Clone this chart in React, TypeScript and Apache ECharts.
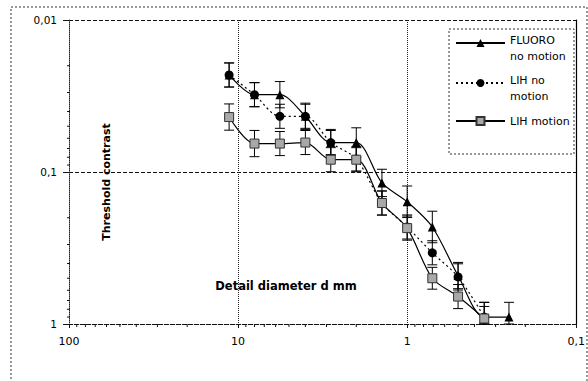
import React, { useEffect, useRef } from "react";
import * as echarts from "echarts";

// Detail diameter d (mm)
const X_VALUES = [11.3, 8, 5.66, 4, 2.83, 2, 1.41, 1, 0.71, 0.5, 0.35, 0.25];
// Threshold contrast per series
const FLUORO = [0.023, 0.031, 0.031, 0.043, 0.064, 0.064, 0.118, 0.157, 0.23, 0.48, 0.9, 0.9];
const LIH_NO_MOTION = [0.023, 0.031, 0.043, 0.043, 0.064, 0.082, 0.16, 0.23, 0.34, 0.49, 0.9];
const LIH_MOTION = [0.0435, 0.065, 0.065, 0.064, 0.083, 0.083, 0.16, 0.234, 0.5, 0.66, 0.92];
// relative error (multiplicative) for error bars
const FLUORO_ERR = [0.2, 0.2, 0.22, 0.22, 0.22, 0.25, 0.23, 0.27, 0.27, 0.22, 0.25, 0.25];
const LIH_NO_MOTION_ERR = [0.2, 0.2, 0.2, 0.2, 0.2, 0.2, 0.2, 0.2, 0.2, 0.22, 0.25];
const LIH_MOTION_ERR = [0.22, 0.22, 0.2, 0.2, 0.2, 0.2, 0.2, 0.2, 0.18, 0.2, 0.2];

const SERIES_NAMES = ["FLUORO\nno motion", "LIH no\nmotion", "LIH motion"];
const X_TICK_LABELS = ["100", "10", "1", "0,1"];
const Y_TICK_LABELS = ["0,01", "0,1", "1"];
const X_MINOR = [90, 80, 70, 60, 50, 40, 30, 20, 9, 8, 7, 6, 5, 4, 3, 2, 0.9, 0.8, 0.7, 0.6, 0.5, 0.4, 0.3, 0.2];
const Y_MINOR = [0.02, 0.03, 0.04, 0.05, 0.06, 0.07, 0.08, 0.09, 0.2, 0.3, 0.4, 0.5, 0.6, 0.7, 0.8, 0.9];

const FONT = "'DejaVu Sans', 'Liberation Sans', sans-serif";

const fmt = (v: number) => String(v).replace(".", ",");

function pairs(xs: number[], ys: number[]) {
  return ys.map((y, i) => [xs[i], y]);
}
function errData(xs: number[], ys: number[], es: number[]) {
  return ys.map((y, i) => [xs[i], y / (1 + es[i]), Math.min(1, y * (1 + es[i]))]);
}

const errRender = (params: any, api: any) => {
  const x = api.value(0);
  const p1 = api.coord([x, api.value(1)]);
  const p2 = api.coord([x, api.value(2)]);
  const st = { stroke: "#000", lineWidth: 1 };
  return {
    type: "group",
    children: [
      { type: "line", shape: { x1: p1[0], y1: p1[1], x2: p2[0], y2: p2[1] }, style: st },
      { type: "line", shape: { x1: p1[0] - 5, y1: p1[1], x2: p1[0] + 5, y2: p1[1] }, style: st },
      { type: "line", shape: { x1: p2[0] - 5, y1: p2[1], x2: p2[0] + 5, y2: p2[1] }, style: st },
    ],
  };
};

const legendBase = {
  orient: "vertical",
  left: 455,
  padding: 0,
  itemWidth: 49,
  itemHeight: 10,
  itemGap: 0,
  textStyle: {
    fontSize: 11,
    lineHeight: 16,
    fontFamily: FONT,
    color: "#000",
    rich: {
      gap: { lineHeight: 10, height: 10, fontSize: 1 },
      t: { fontSize: 11, lineHeight: 16, fontFamily: FONT, color: "#000" },
    },
  },
};

const legendFormatter = (name: string) => {
  const lines = name.split("\n");
  if (lines.length === 1) return "{t|" + name + "}";
  return "{gap|}\n" + lines.map((l) => "{t|" + l + "}").join("\n");
};

export default function App() {
  const ref = useRef<HTMLDivElement>(null);
  useEffect(() => {
    if (!ref.current) return;
    const chart = echarts.init(ref.current, null, { renderer: "svg" });
    const lineBase = {
      type: "line",
      smooth: 0.3,
      z: 3,
    };
    chart.setOption({
      animation: false,
      backgroundColor: "#fff",
      grid: { left: 69, right: 6, top: 20, bottom: 57 },
      xAxis: {
        type: "log",
        logBase: 10,
        min: 0.1,
        max: 100,
        inverse: true,
        axisLine: { show: true, lineStyle: { color: "#111", type: "dashed", width: 1 } },
        axisTick: { show: true, length: 4, inside: false, lineStyle: { color: "#111" } },
        axisLabel: {
          margin: 12,
          fontSize: 11,
          fontFamily: FONT,
          color: "#000",
          formatter: (v: number) => {
            const idx = Math.round(2 - Math.log10(v));
            return X_TICK_LABELS[idx] ?? fmt(v);
          },
        },
        splitLine: { show: true, lineStyle: { color: "#222", type: "dotted", width: 1 } },
      },
      yAxis: [
        {
          type: "log",
          logBase: 10,
          min: 0.01,
          max: 1,
          inverse: true,
          axisLine: { show: true, lineStyle: { color: "#222", type: "dotted", width: 1 } },
          axisTick: { show: true, length: 6, lineStyle: { color: "#111" } },
          axisLabel: {
            margin: 12,
            fontSize: 10.5,
            fontFamily: FONT,
            color: "#000",
            formatter: (v: number) => {
              const idx = Math.round(Math.log10(v) + 2);
              return Y_TICK_LABELS[idx] ?? fmt(v);
            },
          },
          splitLine: { show: true, lineStyle: { color: "#111", type: "dashed", width: 1 } },
        },
        {
          type: "log",
          logBase: 10,
          min: 0.01,
          max: 1,
          inverse: true,
          position: "right",
          axisLine: { show: true, lineStyle: { color: "#000", width: 1.2 } },
          axisTick: { show: false },
          axisLabel: { show: false },
          splitLine: { show: false },
        },
      ],
      legend: [
        { ...legendBase, top: 22, formatter: legendFormatter, data: [SERIES_NAMES[0]] },
        { ...legendBase, top: 62, formatter: legendFormatter, data: [SERIES_NAMES[1]] },
        { ...legendBase, top: 113, formatter: legendFormatter, data: [SERIES_NAMES[2]] },
      ],
      graphic: [
        {
          type: "rect",
          shape: { x: 11, y: 7, width: 576, height: 390 },
          style: { fill: "none", stroke: "#333", lineWidth: 1, lineDash: [2, 2] },
          silent: true,
          z: -1,
        },
        {
          type: "rect",
          shape: { x: 449, y: 29, width: 125, height: 125 },
          style: { fill: "#fff", stroke: "#333", lineWidth: 1, lineDash: [2, 2] },
          silent: true,
          z: 0,
        },
        {
          type: "text",
          x: 106,
          y: 182,
          rotation: Math.PI / 2,
          style: {
            text: "Threshold contrast",
            font: "bold 11px " + FONT,
            fill: "#000",
            align: "center",
            verticalAlign: "middle",
          },
          z: 10,
        },
        {
          type: "text",
          x: 286,
          y: 286,
          style: {
            text: "Detail diameter d mm",
            font: "bold 11.5px " + FONT,
            fill: "#000",
            align: "center",
            verticalAlign: "middle",
          },
          z: 10,
        },
      ],
      series: [
        {
          type: "custom",
          name: "minorX",
          silent: true,
          clip: false,
          renderItem: (p: any, api: any) => {
            const c = api.coord([api.value(0), 1]);
            return { type: "line", shape: { x1: c[0], y1: c[1], x2: c[0], y2: c[1] + 3 }, style: { stroke: "#111", lineWidth: 1 } };
          },
          data: X_MINOR.map((v) => [v, 1]),
          z: 1,
        },
        {
          type: "custom",
          name: "minorY",
          silent: true,
          clip: false,
          renderItem: (p: any, api: any) => {
            const c = api.coord([100, api.value(1)]);
            return { type: "line", shape: { x1: c[0] - 2, y1: c[1], x2: c[0] + 1, y2: c[1] }, style: { stroke: "#111", lineWidth: 1 } };
          },
          data: Y_MINOR.map((v) => [100, v]),
          z: 1,
        },
        {
          type: "custom",
          name: "errF",
          silent: true,
          renderItem: errRender,
          encode: { x: 0, y: [1, 2] },
          data: errData(X_VALUES, FLUORO, FLUORO_ERR),
          z: 2,
        },
        {
          type: "custom",
          name: "errN",
          silent: true,
          renderItem: errRender,
          encode: { x: 0, y: [1, 2] },
          data: errData(X_VALUES, LIH_NO_MOTION, LIH_NO_MOTION_ERR),
          z: 2,
        },
        {
          type: "custom",
          name: "errM",
          silent: true,
          renderItem: errRender,
          encode: { x: 0, y: [1, 2] },
          data: errData(X_VALUES, LIH_MOTION, LIH_MOTION_ERR),
          z: 2,
        },
        {
          ...lineBase,
          name: SERIES_NAMES[0],
          symbol: "triangle",
          symbolSize: 9,
          itemStyle: { color: "#000" },
          lineStyle: { color: "#000", width: 1.2, type: "solid" },
          data: pairs(X_VALUES, FLUORO),
        },
        {
          ...lineBase,
          name: SERIES_NAMES[1],
          symbol: "circle",
          symbolSize: 9,
          itemStyle: { color: "#000" },
          lineStyle: { color: "#000", width: 1.2, type: [2, 3] },
          data: pairs(X_VALUES, LIH_NO_MOTION),
        },
        {
          ...lineBase,
          name: SERIES_NAMES[2],
          symbol: "rect",
          symbolSize: 9,
          itemStyle: { color: "#a8a8a8", borderColor: "#333", borderWidth: 1 },
          lineStyle: { color: "#000", width: 1.2, type: "solid" },
          data: pairs(X_VALUES, LIH_MOTION),
        },
      ],
    });
    return () => chart.dispose();
  }, []);
  return (
    <div
      ref={ref}
      style={{ position: "fixed", left: 0, top: 0, width: 588, height: 381 }}
    />
  );
}
